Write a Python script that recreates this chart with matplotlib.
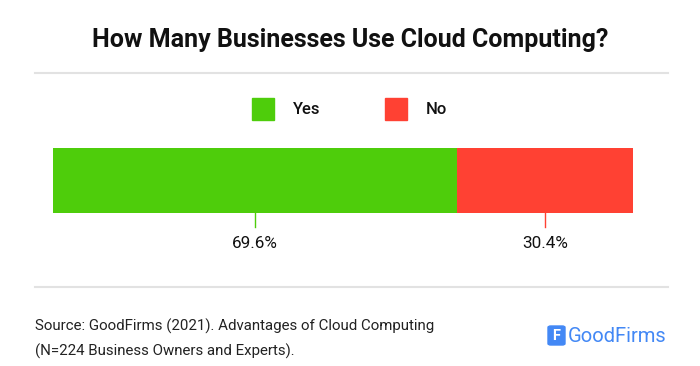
import matplotlib.pyplot as plt
from matplotlib.patches import Rectangle, FancyBboxPatch

plt.rcParams['font.family'] = ['Roboto', 'DejaVu Sans']

categories = ['Yes', 'No']
values = [69.6, 30.4]
colors = ['#4ECD0B', '#FF4133']
labels = ['69.6%', '30.4%']

W, H = 700, 366
fig = plt.figure(figsize=(7, 3.66), dpi=100)


def fx(x):
    return x / W


def fy(y):
    return 1 - y / H


# title and separators
fig.text(0.5, fy(40), 'How Many Businesses Use Cloud Computing?', ha='center', va='center',
         fontsize=18, fontweight='bold', color='#111111')
for yy in (73, 287):
    fig.add_artist(plt.Line2D([fx(35), fx(668)], [fy(yy), fy(yy)], color='#E2E2E2', lw=1.5))

# legend
leg_x = [252, 385]
for i, c in enumerate(categories):
    fig.add_artist(Rectangle((fx(leg_x[i]), fy(120)), fx(22), 22 / H, color=colors[i]))
    fig.text(fx(leg_x[i] + 41), fy(109), c, ha='left', va='center', fontsize=12,
             fontweight='medium', color='#111111')

# stacked bar
ax = fig.add_axes([fx(53), fy(213), fx(580), 65 / H])
left = 0
for v, c, lab in zip(values, colors, labels):
    ax.barh(0, v, left=left, height=1, color=c)
    mid = left + v / 2
    ax.plot([mid, mid], [-0.5, -0.72], color=c, lw=1, clip_on=False)
    ax.text(mid, -0.97, lab, ha='center', va='center', fontsize=12.3, color='#111111')
    left += v
ax.set_xlim(0, sum(values))
ax.set_ylim(-0.5, 0.5)
ax.axis('off')

# source
fig.text(fx(35), fy(326), 'Source: GoodFirms (2021). Advantages of Cloud Computing', ha='left',
         va='center', fontsize=10.8, color='#222222')
fig.text(fx(35), fy(351), '(N=224 Business Owners and Experts).', ha='left',
         va='center', fontsize=10.8, color='#222222')

# logo
blue = '#4388F5'
fig.add_artist(FancyBboxPatch((fx(548), fy(345)), fx(17), 19 / H,
                              boxstyle='round,pad=0,rounding_size=0.004', color=blue))
fig.text(fx(556.5), fy(335.5), 'F', ha='center', va='center', fontsize=10.5, fontweight='bold',
         color='white')
fig.text(fx(568), fy(336), 'GoodFirms', ha='left', va='center', fontsize=14.5, color=blue)

fig.savefig('out.png', dpi=100, facecolor='white')
